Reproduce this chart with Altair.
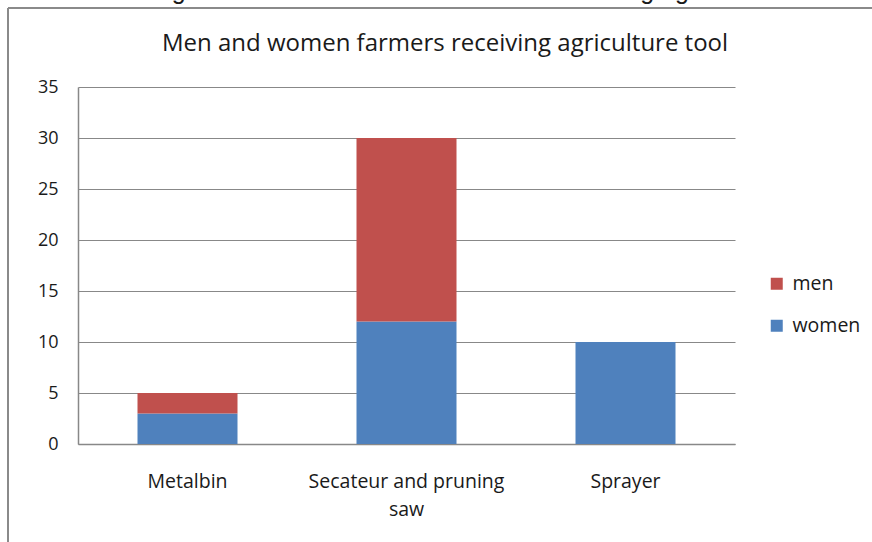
import altair as alt
import pandas as pd

# Tools handed out and how many men / women farmers received each
tools = ["Metalbin", "Secateur and pruning saw", "Sprayer"]
women = [3, 12, 10]
men = [2, 18, 0]
groups = ["men", "women"]
group_colors = ["#C0504D", "#4F81BD"]
y_ticks = [0, 5, 10, 15, 20, 25, 30, 35]

rows = []
for t, w, m in zip(tools, women, men):
    rows.append({"tool": t, "group": "women", "count": w, "stack": 0})
    rows.append({"tool": t, "group": "men", "count": m, "stack": 1})
df = pd.DataFrame(rows)

FONT = "Open Sans"
PLOT_W, PLOT_H = 657, 357

bars = alt.Chart(df).mark_bar(size=100).encode(
    x=alt.X(
        "tool:N",
        sort=tools,
        title=None,
        axis=alt.Axis(
            labelAngle=0,
            labelFont=FONT,
            labelFontSize=19.5,
            labelColor="#1a1a1a",
            labelPadding=28,
            labelLineHeight=28,
            labelLimit=300,
            labelExpr="datum.label == 'Secateur and pruning saw' ? ['Secateur and pruning', 'saw'] : datum.label",
            ticks=False,
            domainColor="#888888",
            domainWidth=1.5,
        ),
        scale=alt.Scale(paddingInner=0.54, paddingOuter=0.27),
    ),
    y=alt.Y(
        "count:Q",
        stack="zero",
        title=None,
        scale=alt.Scale(domain=[0, 35], nice=False),
        axis=alt.Axis(
            values=y_ticks,
            labelFont=FONT,
            labelFontSize=18,
            labelColor="#1a1a1a",
            labelPadding=20,
            ticks=False,
            grid=True,
            gridColor="#888888",
            gridWidth=1.2,
            domainColor="#888888",
            domainWidth=1.5,
        ),
    ),
    color=alt.Color(
        "group:N",
        scale=alt.Scale(domain=groups, range=group_colors),
        legend=alt.Legend(
            title=None,
            orient="none",
            legendX=689,
            legendY=187,
            symbolType="square",
            symbolSize=144,
            symbolStrokeWidth=0,
            labelFont=FONT,
            labelFontSize=19.5,
            labelColor="#1a1a1a",
            rowPadding=21,
            labelOffset=6,
        ),
    ),
    order=alt.Order("stack:Q", sort="ascending"),
)

one = pd.DataFrame({"k": [0]})

title = alt.Chart(one).mark_text(
    text="Men and women farmers receiving agriculture tool",
    font=FONT, fontSize=24, color="#1a1a1a", align="center", baseline="middle",
).encode(x=alt.value(367), y=alt.value(-43))

caption = alt.Chart(one).mark_text(
    text="Figure 13: Men and women farmers receiving agriculture tool",
    font="Liberation Sans", fontSize=25, color="#1a1a1a", align="center", baseline="alphabetic",
).encode(x=alt.value(410), y=alt.value(-88))

frame_left = alt.Chart(one).mark_rule(color="#8a8a8a", strokeWidth=2).encode(
    x=alt.value(-70), y=alt.value(-79), y2=alt.value(PLOT_H + 120)
)
frame_top = alt.Chart(one).mark_rule(color="#8a8a8a", strokeWidth=2).encode(
    x=alt.value(-70), x2=alt.value(PLOT_W + 160), y=alt.value(-79)
)

chart = alt.layer(frame_left, frame_top, caption, title, bars).properties(
    width=PLOT_W,
    height=PLOT_H,
    padding={"left": 78, "top": 87, "right": 137, "bottom": 98},
    autosize=alt.AutoSizeParams(type="none"),
    background="white",
).configure_view(stroke=None)

chart.save("out.html", embed_options={"renderer": "svg", "actions": False})
